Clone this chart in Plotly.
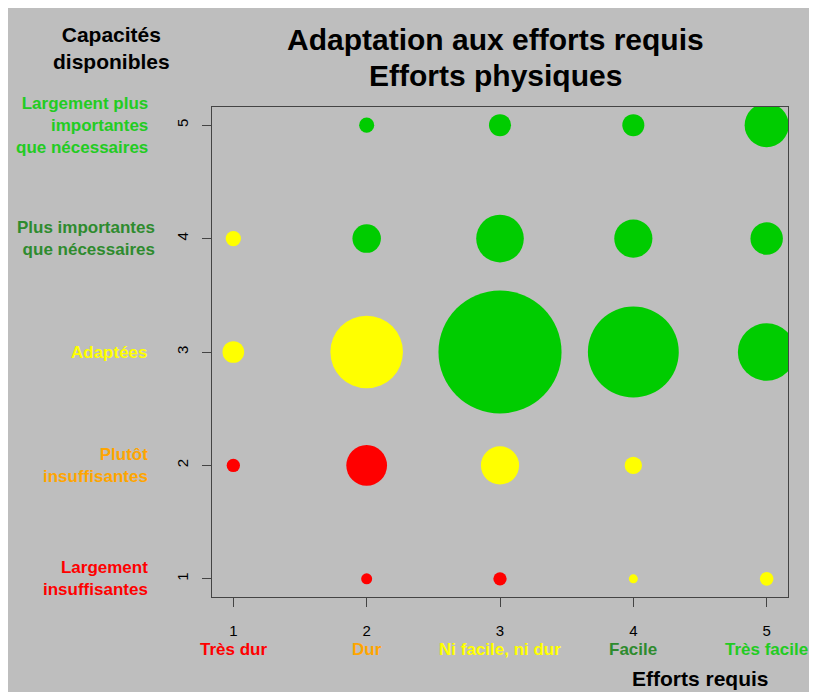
import plotly.graph_objects as go

# ---- data ----
efforts = [2, 3, 4, 5,
           1, 2, 3, 4, 5,
           1, 2, 3, 4, 5,
           1, 2, 3, 4,
           2, 3, 4, 5]
capacites = [5, 5, 5, 5,
             4, 4, 4, 4, 4,
             3, 3, 3, 3, 3,
             2, 2, 2, 2,
             1, 1, 1, 1]
effectifs = [2.8, 6, 6, 24,
             2.9, 10, 28, 18, 13,
             5.8, 65, 187, 102, 41,
             2.2, 20.5, 18, 3.7,
             1.5, 2.2, 1, 2.3]
adequation = ["conf", "conf", "conf", "conf",
              "adapt", "conf", "conf", "conf", "conf",
              "adapt", "adapt", "conf", "conf", "conf",
              "insuf", "insuf", "adapt", "adapt",
              "insuf", "insuf", "adapt", "adapt"]

x_ticks = [1, 2, 3, 4, 5]
x_labels = ["Très dur", "Dur", "Ni facile, ni dur", "Facile", "Très facile"]
y_ticks = [1, 2, 3, 4, 5]
y_labels = ["Largement<br>insuffisantes", "Plutôt<br>insuffisantes", "Adaptées",
            "Plus importantes<br>que nécessaires",
            "Largement plus<br>importantes<br>que nécessaires"]
title_lines = ["Adaptation aux efforts requis", "Efforts physiques"]

# ---- styles ----
bubble_colors = {"insuf": "#FF0000", "adapt": "#FFFF00", "conf": "#00CC00"}
x_label_colors = ["#FF0000", "#FFA500", "#FFFF00", "#2E8B2E", "#22CC22"]
y_label_colors = ["#FF0000", "#FFA500", "#FFFF00", "#2E8B2E", "#22CC22"]
y_label_xshift = [0, 0, 0, 7, 0]
title_line_y = [40, 75]
BG = "#BEBEBE"
FONT = "Liberation Sans, Arial, sans-serif"

OFF = 8  # page body margin
W, H = 817 - OFF - 2, 692 - OFF
# plot area in reference page pixels: x 212..788, y 107..597
PX0, PX1, PY0, PY1 = 212 - OFF, 788 - OFF, 107 - OFF, 597 - OFF
L, R, T, B = PX0, W - PX1, PY0, H - PY1
pw, ph = PX1 - PX0, PY1 - PY0


def px_x(p):
    return (p - OFF - PX0) / pw


def px_y(p):
    return (PY1 - (p - OFF)) / ph


fig = go.Figure()
fig.add_trace(go.Scatter(
    x=efforts, y=capacites, mode="markers",
    marker=dict(size=effectifs, sizemode="area", sizeref=1 / 40.5,
                color=[bubble_colors[a] for a in adequation],
                line=dict(width=0), opacity=1),
    hoverinfo="skip", cliponaxis=True, showlegend=False))

annotations = []
for xv, lab, col in zip(x_ticks, x_labels, x_label_colors):
    annotations.append(dict(x=xv, xref="x", y=px_y(649), yref="paper",
                            text="<b>%s</b>" % lab, showarrow=False,
                            xanchor="center", yanchor="middle",
                            font=dict(family=FONT, size=17, color=col)))
for yv, lab, col, xs in zip(y_ticks, y_labels, y_label_colors, y_label_xshift):
    annotations.append(dict(x=px_x(150), xref="paper", y=yv, yref="y",
                            text="<b>%s</b>" % lab, showarrow=False, xshift=xs,
                            xanchor="right", yanchor="middle", align="right",
                            font=dict(family=FONT, size=17, color=col)))
annotations.append(dict(x=px_x(111), xref="paper", y=px_y(48), yref="paper",
                        text="<b>Capacités<br>disponibles</b>", showarrow=False,
                        xanchor="center", yanchor="middle", align="center",
                        font=dict(family=FONT, size=21, color="black")))
annotations.append(dict(x=px_x(700), xref="paper", y=px_y(678), yref="paper",
                        text="<b>Efforts requis</b>", showarrow=False,
                        xanchor="center", yanchor="middle",
                        font=dict(family=FONT, size=21, color="black")))
for line, ly in zip(title_lines, title_line_y):
    annotations.append(dict(x=px_x(495), xref="paper", y=px_y(ly), yref="paper",
                            text="<b>%s</b>" % line,
                            showarrow=False, xanchor="center", yanchor="middle",
                            font=dict(family=FONT, size=30, color="black")))

axis_common = dict(showgrid=False, zeroline=False, showline=True, mirror=True,
                   linecolor="#444444", linewidth=1, ticks="outside",
                   tickcolor="#444444", ticklen=9, tickwidth=1,
                   tickfont=dict(family=FONT, size=15, color="black"))

fig.update_layout(
    width=W, height=H,
    margin=dict(l=L, r=R, t=T, b=B, pad=0),
    paper_bgcolor=BG, plot_bgcolor=BG,
    xaxis=dict(range=[0.84, 5.16], tickvals=x_ticks, ticktext=[str(v) for v in x_ticks],
               ticklabelstandoff=11, **axis_common),
    yaxis=dict(range=[0.84, 5.16], tickvals=y_ticks, ticktext=[str(v) for v in y_ticks],
               tickangle=-90, ticklabelstandoff=8, **axis_common),
    annotations=annotations,
)

fig.write_html("out.html")
